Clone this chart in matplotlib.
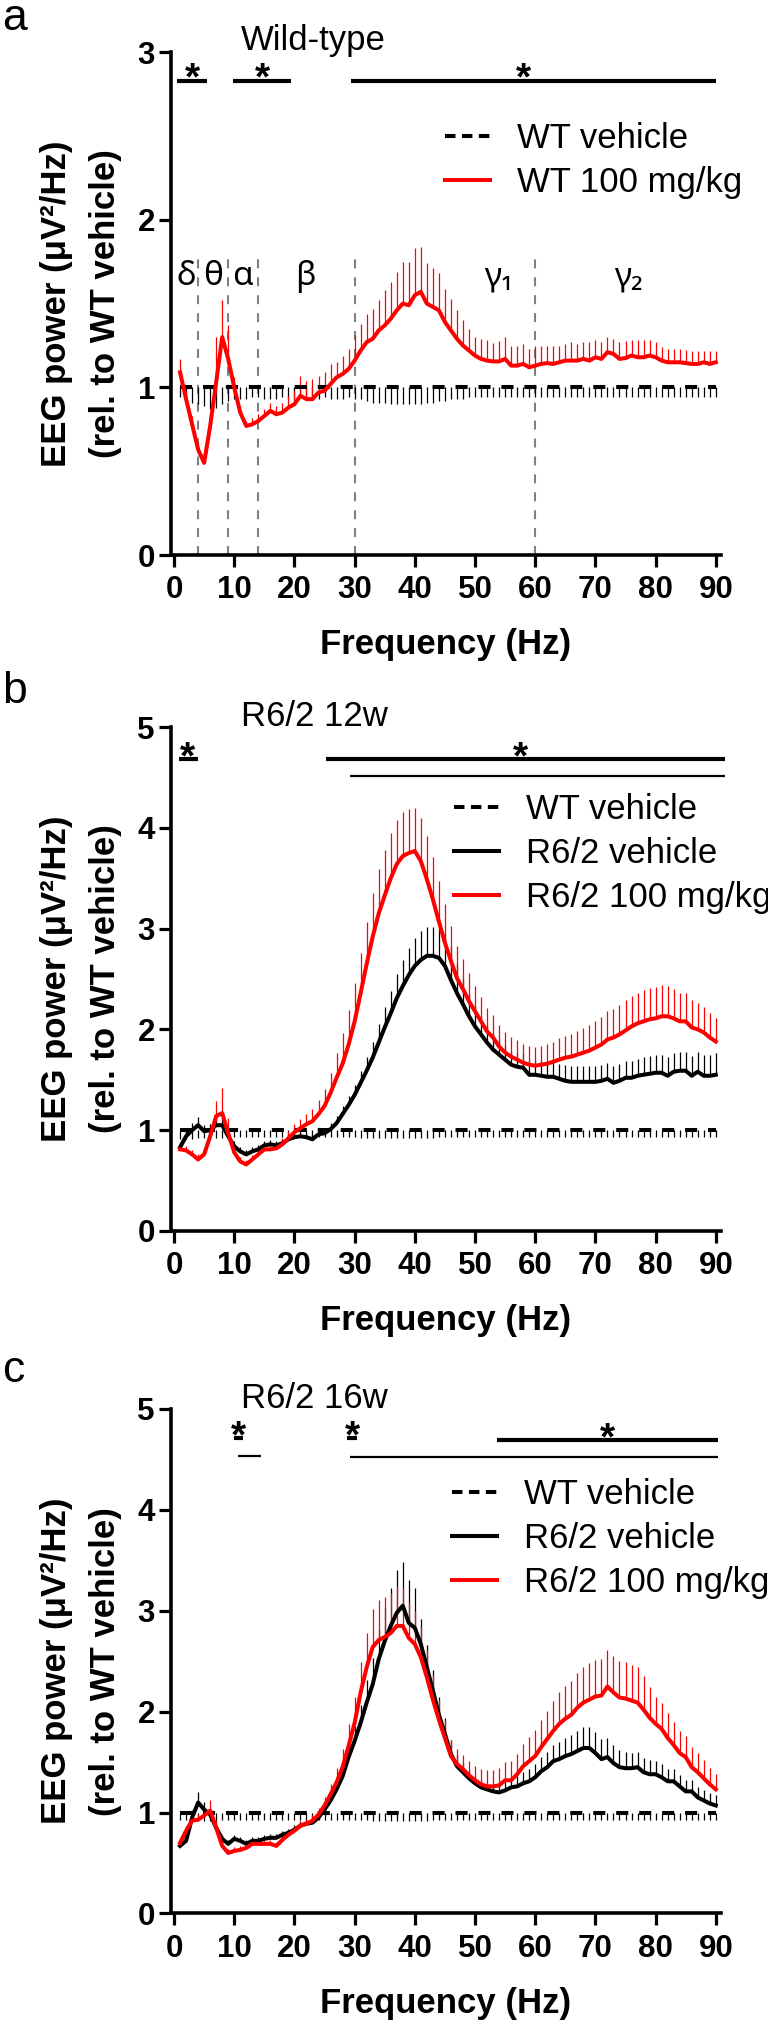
import matplotlib
matplotlib.use("Agg")
import matplotlib.pyplot as plt
import numpy as np
from matplotlib.lines import Line2D

plt.rcParams['font.family'] = ['Liberation Sans', 'DejaVu Sans']

# frequency bins (Hz)
freq = np.arange(1, 91)
# WT vehicle is the reference, so its mean is 1 at every bin
wt_vehicle = [1.0] * 90

# ---- panel a: wild-type ----
a_red = [1.09, 0.93, 0.78, 0.63, 0.55, 0.77, 1.03, 1.30, 1.17, 1.00,
         0.85, 0.77, 0.78, 0.80, 0.83, 0.86, 0.84, 0.85, 0.88, 0.90,
         0.95, 0.93, 0.93, 0.97, 0.98, 1.02, 1.06, 1.08, 1.11, 1.16,
         1.22, 1.27, 1.29, 1.34, 1.37, 1.41, 1.46, 1.50, 1.49, 1.55,
         1.57, 1.50, 1.48, 1.46, 1.39, 1.34, 1.29, 1.25, 1.22, 1.19,
         1.17, 1.16, 1.155, 1.155, 1.17, 1.13, 1.13, 1.14, 1.12, 1.13,
         1.14, 1.145, 1.14, 1.15, 1.16, 1.16, 1.16, 1.17, 1.16, 1.18,
         1.17, 1.21, 1.20, 1.17, 1.175, 1.19, 1.18, 1.18, 1.19, 1.18,
         1.16, 1.15, 1.15, 1.15, 1.145, 1.14, 1.14, 1.15, 1.14, 1.15]
a_red_sem = [0.08, 0.05, 0.05, 0.04, 0.04, 0.06, 0.27, 0.22, 0.20, 0.06,
             0.04, 0.03, 0.04, 0.04, 0.04, 0.05, 0.05, 0.06, 0.07, 0.08,
             0.12, 0.11, 0.12, 0.10, 0.11, 0.12, 0.09, 0.11, 0.12, 0.15,
             0.16, 0.17, 0.18, 0.18, 0.21, 0.22, 0.23, 0.25, 0.26, 0.28,
             0.27, 0.24, 0.23, 0.22, 0.20, 0.19, 0.17, 0.15, 0.13, 0.11,
             0.12, 0.12, 0.11, 0.12, 0.13, 0.12, 0.12, 0.12, 0.11, 0.12,
             0.11, 0.10, 0.11, 0.10, 0.10, 0.11, 0.10, 0.10, 0.11, 0.10,
             0.10, 0.09, 0.09, 0.10, 0.10, 0.09, 0.10, 0.10, 0.09, 0.09,
             0.08, 0.08, 0.08, 0.08, 0.08, 0.08, 0.08, 0.07, 0.08, 0.07]
a_wt_sem = [0.06, 0.07, 0.09, 0.10, 0.11, 0.13, 0.12, 0.10, 0.08, 0.07,
            0.07, 0.07, 0.06, 0.06, 0.07, 0.07, 0.07, 0.06, 0.07, 0.07,
            0.06, 0.07, 0.07, 0.07, 0.06, 0.07, 0.07, 0.07, 0.06, 0.07,
            0.07, 0.08, 0.09, 0.09, 0.09, 0.10, 0.10, 0.10, 0.10, 0.10,
            0.10, 0.09, 0.09, 0.08, 0.08, 0.07, 0.07, 0.07, 0.06, 0.06,
            0.06, 0.06, 0.06, 0.06, 0.06, 0.06, 0.06, 0.06, 0.06, 0.06,
            0.06, 0.06, 0.06, 0.06, 0.06, 0.06, 0.06, 0.06, 0.06, 0.06,
            0.06, 0.06, 0.06, 0.06, 0.06, 0.06, 0.06, 0.06, 0.06, 0.06,
            0.06, 0.06, 0.06, 0.06, 0.06, 0.06, 0.06, 0.06, 0.06, 0.06]

# band borders and names (panel a)
band_edges = [4, 9, 14, 30, 60]
band_names = ['δ', 'θ', 'α', 'β', 'γ₁', 'γ₂']
band_label_x = [2.1, 6.5, 11.4, 21.8, 53.9, 75.4]

# ---- panel b: R6/2 12w ----
b_blk = [0.83, 0.94, 1.00, 1.05, 0.99, 1.00, 1.05, 1.05, 0.94, 0.84,
         0.79, 0.76, 0.79, 0.81, 0.85, 0.86, 0.85, 0.87, 0.91, 0.93,
         0.94, 0.93, 0.91, 0.96, 0.97, 1.01, 1.07, 1.16, 1.25, 1.35,
         1.47, 1.59, 1.72, 1.87, 2.02, 2.16, 2.31, 2.43, 2.54, 2.63,
         2.69, 2.73, 2.73, 2.71, 2.63, 2.49, 2.36, 2.25, 2.13, 2.03,
         1.95, 1.87, 1.80, 1.75, 1.70, 1.65, 1.63, 1.62, 1.55, 1.55,
         1.54, 1.53, 1.53, 1.51, 1.49, 1.48, 1.48, 1.48, 1.48, 1.48,
         1.49, 1.51, 1.47, 1.49, 1.52, 1.52, 1.54, 1.55, 1.56, 1.57,
         1.57, 1.54, 1.58, 1.59, 1.59, 1.54, 1.58, 1.54, 1.54, 1.55]
b_blk_sem = [0.05, 0.06, 0.07, 0.08, 0.06, 0.06, 0.07, 0.07, 0.06, 0.05,
             0.04, 0.04, 0.04, 0.04, 0.04, 0.04, 0.04, 0.04, 0.04, 0.04,
             0.04, 0.04, 0.05, 0.05, 0.05, 0.06, 0.07, 0.08, 0.09, 0.10,
             0.12, 0.14, 0.16, 0.18, 0.20, 0.22, 0.24, 0.26, 0.27, 0.28,
             0.29, 0.29, 0.29, 0.31, 0.33, 0.34, 0.30, 0.26, 0.22, 0.20,
             0.18, 0.17, 0.16, 0.15, 0.15, 0.14, 0.14, 0.14, 0.15, 0.15,
             0.15, 0.15, 0.15, 0.15, 0.16, 0.16, 0.16, 0.16, 0.16, 0.16,
             0.16, 0.16, 0.17, 0.17, 0.17, 0.17, 0.17, 0.18, 0.18, 0.18,
             0.18, 0.19, 0.19, 0.19, 0.19, 0.20, 0.20, 0.21, 0.21, 0.22]
b_red = [0.81, 0.80, 0.76, 0.71, 0.76, 0.94, 1.14, 1.17, 0.97, 0.78,
         0.69, 0.66, 0.71, 0.76, 0.81, 0.81, 0.82, 0.86, 0.92, 0.98,
         1.02, 1.06, 1.09, 1.16, 1.24, 1.37, 1.52, 1.66, 1.85, 2.08,
         2.36, 2.65, 2.92, 3.15, 3.33, 3.50, 3.64, 3.72, 3.75, 3.77,
         3.67, 3.49, 3.29, 3.07, 2.86, 2.68, 2.51, 2.40, 2.28, 2.18,
         2.08, 1.98, 1.92, 1.83, 1.77, 1.73, 1.70, 1.67, 1.65, 1.64,
         1.65, 1.66, 1.68, 1.70, 1.72, 1.73, 1.75, 1.77, 1.79, 1.82,
         1.85, 1.90, 1.92, 1.95, 1.99, 2.03, 2.06, 2.08, 2.10, 2.11,
         2.13, 2.13, 2.11, 2.08, 2.08, 2.02, 2.00, 1.97, 1.92, 1.88]
b_red_sem = [0.03, 0.04, 0.04, 0.05, 0.06, 0.10, 0.15, 0.25, 0.15, 0.06,
             0.04, 0.04, 0.04, 0.05, 0.05, 0.05, 0.05, 0.06, 0.07, 0.08,
             0.09, 0.10, 0.12, 0.14, 0.17, 0.20, 0.25, 0.30, 0.34, 0.38,
             0.40, 0.42, 0.43, 0.44, 0.45, 0.45, 0.44, 0.44, 0.44, 0.43,
             0.43, 0.43, 0.42, 0.40, 0.38, 0.35, 0.32, 0.30, 0.28, 0.25,
             0.24, 0.23, 0.22, 0.21, 0.20, 0.19, 0.19, 0.19, 0.19, 0.19,
             0.19, 0.20, 0.20, 0.21, 0.21, 0.22, 0.23, 0.24, 0.25, 0.26,
             0.27, 0.28, 0.28, 0.29, 0.30, 0.30, 0.30, 0.31, 0.31, 0.31,
             0.31, 0.30, 0.29, 0.28, 0.28, 0.27, 0.26, 0.25, 0.24, 0.23]
b_wt_sem = [0.09, 0.09, 0.09, 0.08, 0.08, 0.08, 0.08, 0.08, 0.07, 0.07,
            0.07, 0.07, 0.07, 0.07, 0.07, 0.07, 0.07, 0.07, 0.07, 0.07,
            0.07, 0.07, 0.07, 0.07, 0.07, 0.07, 0.07, 0.07, 0.07, 0.07,
            0.08, 0.08, 0.08, 0.08, 0.08, 0.08, 0.08, 0.08, 0.08, 0.08,
            0.08, 0.08, 0.08, 0.07, 0.07, 0.07, 0.07, 0.07, 0.07, 0.07,
            0.07, 0.07, 0.07, 0.07, 0.07, 0.07, 0.07, 0.07, 0.07, 0.07,
            0.07, 0.07, 0.07, 0.07, 0.07, 0.07, 0.07, 0.07, 0.07, 0.07,
            0.07, 0.07, 0.07, 0.07, 0.07, 0.07, 0.07, 0.07, 0.07, 0.07,
            0.07, 0.07, 0.07, 0.07, 0.07, 0.07, 0.07, 0.07, 0.07, 0.07]

# ---- panel c: R6/2 16w ----
c_blk = [0.67, 0.72, 0.95, 1.10, 1.03, 0.98, 0.85, 0.74, 0.69, 0.74,
         0.72, 0.69, 0.72, 0.72, 0.74, 0.75, 0.75, 0.78, 0.80, 0.83,
         0.87, 0.89, 0.90, 0.95, 1.03, 1.12, 1.23, 1.36, 1.55, 1.71,
         1.89, 2.09, 2.27, 2.52, 2.70, 2.85, 2.98, 3.05, 2.88, 2.83,
         2.67, 2.44, 2.21, 1.97, 1.78, 1.58, 1.46, 1.40, 1.34, 1.29,
         1.25, 1.23, 1.21, 1.20, 1.22, 1.25, 1.26, 1.29, 1.31, 1.35,
         1.41, 1.45, 1.51, 1.53, 1.56, 1.58, 1.61, 1.64, 1.64, 1.59,
         1.53, 1.55, 1.49, 1.45, 1.44, 1.44, 1.45, 1.40, 1.38, 1.38,
         1.35, 1.31, 1.31, 1.26, 1.21, 1.21, 1.15, 1.12, 1.09, 1.07]
c_blk_sem = [0.04, 0.05, 0.08, 0.10, 0.07, 0.05, 0.04, 0.04, 0.04, 0.04,
             0.04, 0.04, 0.04, 0.04, 0.04, 0.04, 0.04, 0.04, 0.04, 0.05,
             0.05, 0.05, 0.05, 0.06, 0.06, 0.07, 0.08, 0.10, 0.12, 0.15,
             0.18, 0.22, 0.26, 0.30, 0.34, 0.38, 0.42, 0.43, 0.42, 0.40,
             0.25, 0.22, 0.20, 0.18, 0.16, 0.14, 0.11, 0.09, 0.08, 0.07,
             0.06, 0.06, 0.06, 0.07, 0.08, 0.09, 0.10, 0.11, 0.12, 0.13,
             0.14, 0.15, 0.16, 0.17, 0.18, 0.19, 0.20, 0.21, 0.21, 0.21,
             0.20, 0.19, 0.18, 0.17, 0.16, 0.15, 0.15, 0.14, 0.14, 0.13,
             0.13, 0.12, 0.12, 0.11, 0.11, 0.11, 0.10, 0.10, 0.10, 0.10]
c_red = [0.70, 0.82, 0.92, 0.93, 0.97, 1.02, 0.85, 0.67, 0.60, 0.62,
         0.63, 0.65, 0.69, 0.69, 0.69, 0.69, 0.67, 0.73, 0.78, 0.82,
         0.87, 0.89, 0.92, 0.98, 1.07, 1.18, 1.30, 1.45, 1.66, 1.89,
         2.19, 2.44, 2.64, 2.71, 2.74, 2.78, 2.85, 2.85, 2.73, 2.67,
         2.54, 2.34, 2.12, 1.92, 1.74, 1.56, 1.48, 1.43, 1.37, 1.32,
         1.28, 1.26, 1.26, 1.27, 1.32, 1.32, 1.38, 1.46, 1.51, 1.56,
         1.65, 1.73, 1.81, 1.88, 1.93, 1.97, 2.04, 2.09, 2.12, 2.15,
         2.16, 2.25, 2.19, 2.14, 2.13, 2.11, 2.09, 2.02, 1.94, 1.88,
         1.83, 1.74, 1.67, 1.59, 1.55, 1.45, 1.40, 1.34, 1.28, 1.23]
c_red_sem = [0.04, 0.05, 0.06, 0.06, 0.07, 0.10, 0.08, 0.05, 0.04, 0.04,
             0.04, 0.04, 0.04, 0.04, 0.04, 0.04, 0.04, 0.04, 0.05, 0.05,
             0.05, 0.05, 0.06, 0.07, 0.08, 0.10, 0.14, 0.18, 0.22, 0.26,
             0.30, 0.34, 0.38, 0.40, 0.40, 0.40, 0.40, 0.38, 0.36, 0.33,
             0.30, 0.27, 0.24, 0.20, 0.18, 0.16, 0.15, 0.14, 0.14, 0.14,
             0.15, 0.16, 0.16, 0.17, 0.18, 0.19, 0.20, 0.22, 0.24, 0.26,
             0.27, 0.28, 0.30, 0.31, 0.32, 0.33, 0.34, 0.35, 0.36, 0.36,
             0.36, 0.36, 0.36, 0.36, 0.36, 0.35, 0.35, 0.33, 0.30, 0.27,
             0.26, 0.25, 0.23, 0.22, 0.21, 0.20, 0.19, 0.18, 0.16, 0.15]
c_wt_sem = [0.07, 0.07, 0.08, 0.08, 0.08, 0.08, 0.08, 0.07, 0.07, 0.07,
            0.07, 0.07, 0.07, 0.07, 0.07, 0.07, 0.07, 0.07, 0.07, 0.07,
            0.07, 0.07, 0.07, 0.07, 0.07, 0.07, 0.07, 0.07, 0.07, 0.07,
            0.07, 0.07, 0.08, 0.08, 0.08, 0.08, 0.08, 0.08, 0.08, 0.08,
            0.08, 0.08, 0.07, 0.07, 0.07, 0.07, 0.07, 0.07, 0.07, 0.07,
            0.07, 0.07, 0.07, 0.07, 0.07, 0.07, 0.07, 0.07, 0.07, 0.07,
            0.07, 0.07, 0.07, 0.07, 0.07, 0.07, 0.07, 0.07, 0.07, 0.07,
            0.07, 0.07, 0.07, 0.07, 0.07, 0.07, 0.07, 0.07, 0.07, 0.07,
            0.07, 0.07, 0.07, 0.07, 0.07, 0.07, 0.07, 0.07, 0.07, 0.07]

# significance bars: (start Hz, end Hz, y, thick?) and asterisks (Hz, y)
sig_a = [(0.5, 5.5, 2.83, True), (9.8, 19.4, 2.83, True), (29.4, 90.1, 2.83, True)]
star_a = [(3.0, 2.83), (14.7, 2.83), (58.0, 2.83)]
sig_b = [(0.8, 3.9, 4.68, True), (25.2, 91.6, 4.68, True), (29.3, 91.6, 4.51, False)]
star_b = [(2.3, 4.68), (57.5, 4.68)]
sig_c = [(9.9, 11.4, 4.71, True), (10.7, 14.5, 4.53, False), (28.8, 30.4, 4.71, True),
         (29.2, 90.4, 4.52, False), (53.7, 90.4, 4.69, True)]
star_c = [(10.7, 4.71), (29.6, 4.71), (72.0, 4.69)]

RED = '#ff0000'
LW = 2.9
WT_DASH = (0, (3.0, 2.7))
LEGEND_DASH = (0, (2.6, 1.6))

fig = plt.figure(figsize=(7.68, 20.28), dpi=100)


def style_axes(ax, ymax):
    ax.set_xlim(-0.5, 90.8)
    ax.set_ylim(0, ymax)
    ax.set_xticks(range(0, 91, 10))
    ax.set_yticks(range(0, ymax + 1))
    for s in ['top', 'right']:
        ax.spines[s].set_visible(False)
    for s in ['left', 'bottom']:
        ax.spines[s].set_linewidth(2.6)
    ax.tick_params(axis='both', direction='out', length=8.6, width=2.3,
                   labelsize=22.5)
    ax.tick_params(axis='x', pad=6)
    ax.tick_params(axis='y', pad=3)
    for lab in ax.get_xticklabels() + ax.get_yticklabels():
        lab.set_fontweight('bold')
    ax.set_xlabel('Frequency (Hz)', fontsize=25, fontweight='bold')
    ax.xaxis.set_label_coords(0.5, -0.145)
    ax.text(-0.209, 0.5, 'EEG power (μV²/Hz)', transform=ax.transAxes,
            rotation=90, ha='center', va='center', fontsize=25, fontweight='bold')
    ax.text(-0.120, 0.5, '(rel. to WT vehicle)', transform=ax.transAxes,
            rotation=90, ha='center', va='center', fontsize=25, fontweight='bold')


def draw_series(ax, mean, sem, color, down=False, dashed=False):
    zeros = np.zeros(len(sem))
    yerr = [sem, zeros] if down else [zeros, sem]
    ax.errorbar(freq, mean, yerr=yerr, fmt='none', ecolor=color,
                elinewidth=0.9, capsize=0, zorder=2)
    ls = WT_DASH if dashed else '-'
    ax.plot(freq, mean, color=color, lw=LW, ls=ls, zorder=3)


def draw_sig(ax, bars, stars):
    for x0, x1, y, thick in bars:
        ax.plot([x0, x1], [y, y], color='black', lw=3.0 if thick else 1.6,
                solid_capstyle='butt', clip_on=False)
    for x, y in stars:
        ax.annotate('*', xy=(x, y), xytext=(0, -6.5), textcoords='offset points',
                    ha='center', va='baseline', fontsize=28, fontweight='bold',
                    annotation_clip=False)


def add_legend(ax, labels, colors, styles, anchor):
    handles = [Line2D([0], [0], color=c, lw=LW, ls=s) for c, s in zip(colors, styles)]
    ax.legend(handles, labels, loc='upper left', bbox_to_anchor=anchor,
              frameon=False, fontsize=25, handlelength=1.3, handletextpad=0.78,
              labelspacing=0.32, borderpad=0, borderaxespad=0)


# ---------------- panel a ----------------
ax_a = fig.add_axes([0.2227, 0.7263, 0.7156, 0.2480])
style_axes(ax_a, 3)
for e in band_edges:
    ax_a.plot([e, e], [0, 1.8], color='#808080', lw=1.5, ls=(0, (4.3, 4.3)), zorder=1)
for name, bx in zip(band_names, band_label_x):
    ax_a.text(bx, 1.66, name, ha='center', va='center', fontsize=24,
              family=['Noto Sans', 'DejaVu Sans'])
draw_series(ax_a, wt_vehicle, a_wt_sem, 'black', down=True, dashed=True)
draw_series(ax_a, a_red, a_red_sem, RED)
draw_sig(ax_a, sig_a, star_a)
ax_a.text(0.127, 1.004, 'Wild-type', transform=ax_a.transAxes, ha='left',
          va='baseline', fontsize=25)
add_legend(ax_a, ['WT vehicle', 'WT 100 mg/kg'], ['black', RED],
           [LEGEND_DASH, '-'], (0.4985, 0.861))

# ---------------- panel b ----------------
ax_b = fig.add_axes([0.2227, 0.3930, 0.7156, 0.2485])
style_axes(ax_b, 5)
draw_series(ax_b, wt_vehicle, b_wt_sem, 'black', down=True, dashed=True)
draw_series(ax_b, b_blk, b_blk_sem, 'black')
draw_series(ax_b, b_red, b_red_sem, RED)
draw_sig(ax_b, sig_b, star_b)
ax_b.text(0.127, 1.002, 'R6/2 12w', transform=ax_b.transAxes, ha='left',
          va='baseline', fontsize=25)
add_legend(ax_b, ['WT vehicle', 'R6/2 vehicle', 'R6/2 100 mg/kg'],
           ['black', 'black', RED], [LEGEND_DASH, '-', '-'], (0.514, 0.869))

# ---------------- panel c ----------------
ax_c = fig.add_axes([0.2227, 0.05646, 0.7156, 0.2488])
style_axes(ax_c, 5)
draw_series(ax_c, wt_vehicle, c_wt_sem, 'black', down=True, dashed=True)
draw_series(ax_c, c_blk, c_blk_sem, 'black')
draw_series(ax_c, c_red, c_red_sem, RED)
draw_sig(ax_c, sig_c, star_c)
ax_c.text(0.127, 1.002, 'R6/2 16w', transform=ax_c.transAxes, ha='left',
          va='baseline', fontsize=25)
add_legend(ax_c, ['WT vehicle', 'R6/2 vehicle', 'R6/2 100 mg/kg'],
           ['black', 'black', RED], [LEGEND_DASH, '-', '-'], (0.511, 0.863))

# panel letters
for letter, base_px in [('a', 30), ('b', 703), ('c', 1382)]:
    fig.text(2 / 768, 1 - base_px / 2028, letter, fontsize=32, ha='left',
             va='baseline')

fig.savefig('out.png', dpi=100)
